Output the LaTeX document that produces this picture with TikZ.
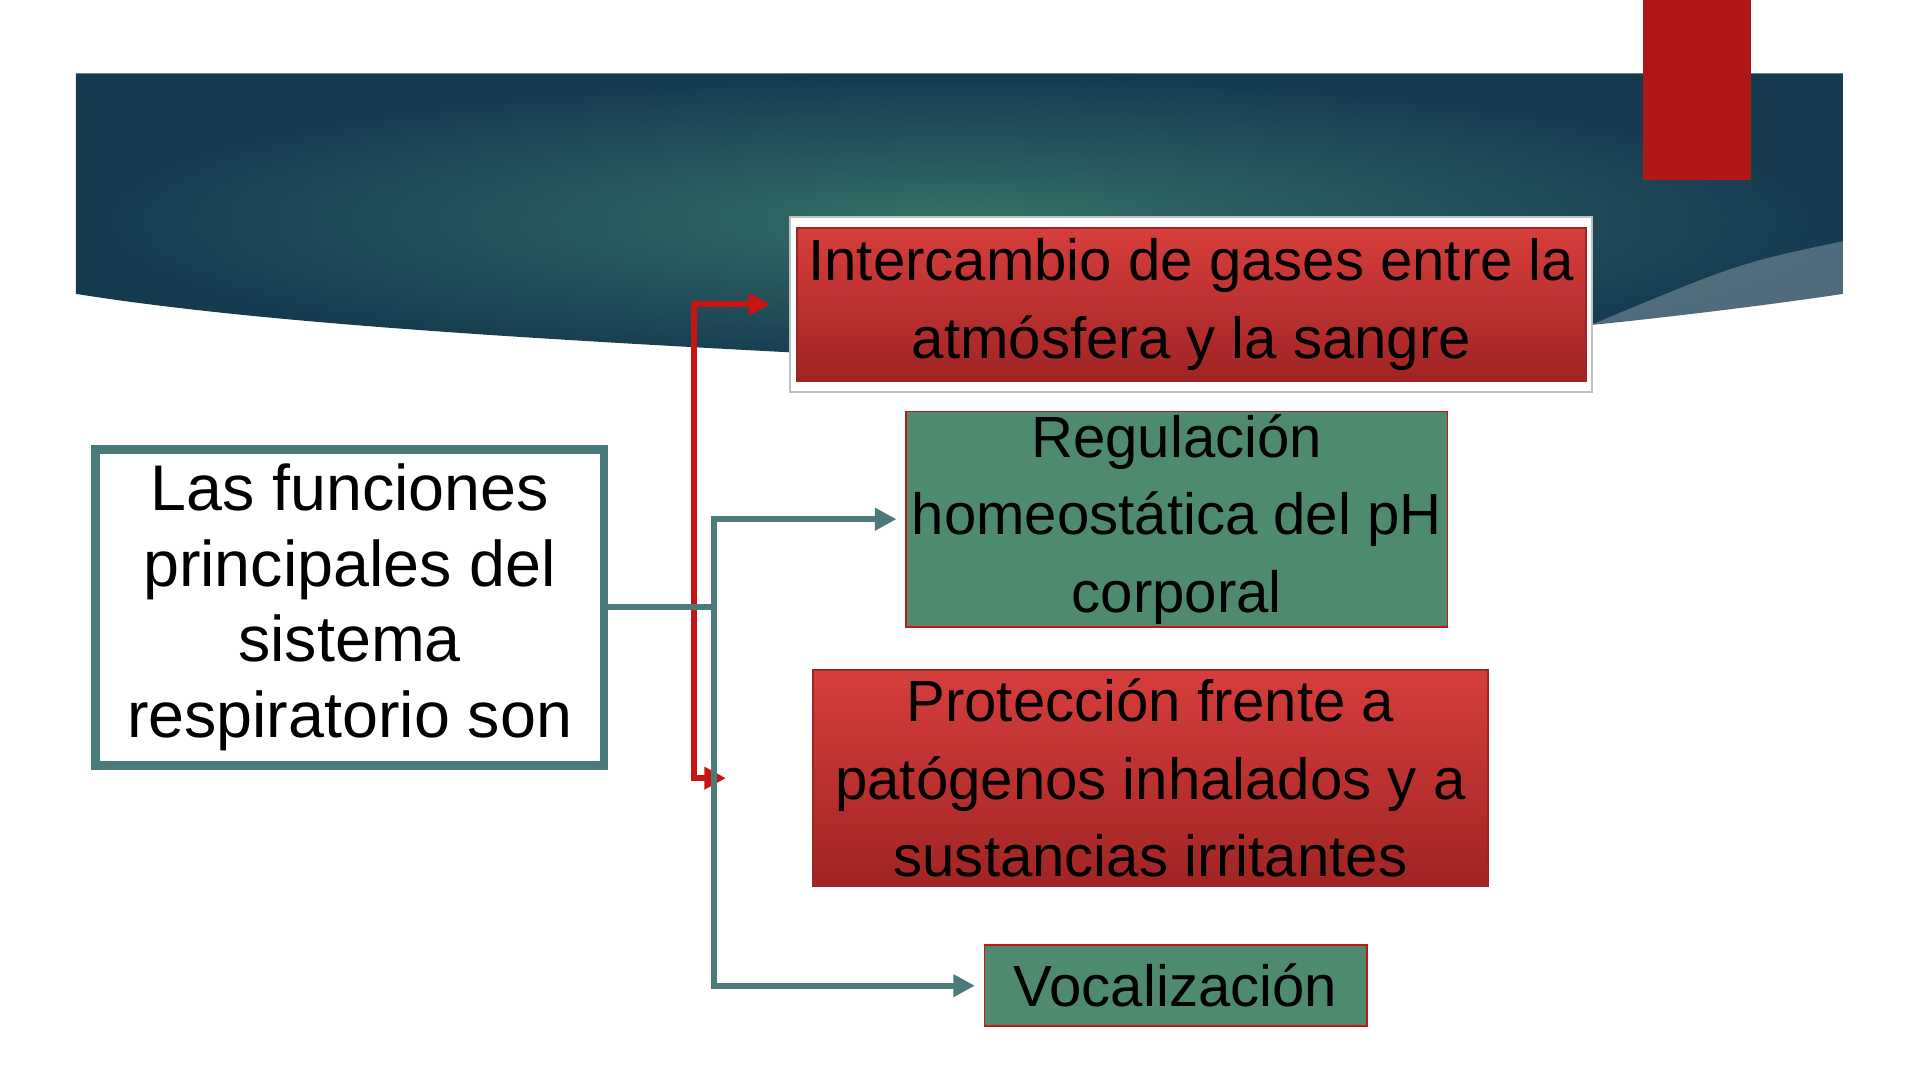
\documentclass[tikz,border=0pt]{standalone}
\usepackage{fontspec}
\setmainfont{Liberation Sans}
\usetikzlibrary{arrows.meta, positioning, calc, backgrounds}
\definecolor{BannerTeal}{RGB}{52, 112, 102}
\definecolor{BannerDark}{RGB}{22, 58, 80}
\definecolor{FuncRed}{RGB}{214, 62, 60}
\definecolor{FuncRedDark}{RGB}{160, 36, 36}
\definecolor{FuncGreen}{RGB}{78, 138, 110}
\definecolor{LinkTeal}{RGB}{74, 122, 122}
\definecolor{LinkRed}{RGB}{200, 20, 20}
\definecolor{TabRed}{RGB}{176, 24, 24}

\tikzset{
  redbox/.style={draw=FuncRedDark, top color=FuncRed, bottom color=FuncRedDark, minimum height=#1, inner sep=0pt, align=center, font=\fontsize{13.5}{18}\selectfont},
  greenbox/.style={draw=LinkRed, fill=FuncGreen, minimum height=#1, inner sep=0pt, align=center, font=\fontsize{13.5}{18}\selectfont},
  tealarrow/.style={draw=LinkTeal, line width=1.4pt, -{Triangle[length=5pt, width=5pt]}},
  redarrow/.style={draw=LinkRed, line width=1.4pt, -{Triangle[length=5pt, width=5pt]}}
}

\begin{document}
\begin{tikzpicture}[x=0.01cm, y=-0.01cm]
        \useasboundingbox (0,0) rectangle (1568,882);
        \fill[white] (0,0) rectangle (1568,882);

        % --- banner ---
        \shade[inner color=BannerTeal, outer color=BannerDark] (62,60) -- (1505,60) -- (1505,240)
            .. controls (1200,285) and (850,300) .. (650,288)
            .. controls (400,275) and (200,262) .. (62,240) -- cycle;
        \fill[white, opacity=0.25] (1300,265) .. controls (1400,255) .. (1505,240) -- (1505,197)
            .. controls (1420,215) .. (1300,265) -- cycle;
        \fill[TabRed] (1342,0) rectangle (1430,147);

        % --- nodes ---
        \node[draw=LinkTeal, line width=2pt, fill=white, minimum width=4.15cm, minimum height=2.56cm,
              align=center, font=\fontsize{15}{17.6}\selectfont] (main) at (285.5,496) {Las funciones\\principales del\\sistema\\respiratorio son};

        \draw[gray!50, fill=white] (645,177) rectangle (1300,320);
        \node[redbox=1.25cm, minimum width=6.44cm] (gases) at (973,248.5) {Intercambio de gases entre la\\atmósfera y la sangre};
        \node[greenbox=1.76cm, minimum width=4.42cm] (ph) at (961,424) {Regulación\\homeostática del pH\\corporal};
        \node[redbox=1.77cm, minimum width=5.51cm] (prot) at (939.5,635.5) {Protección frente a\\patógenos inhalados y a\\sustancias irritantes};
        \node[greenbox=0.66cm, minimum width=3.12cm] (voc) at (960,805) {Vocalización};

        % --- connectors ---
        \coordinate (tj) at (583,496);
        \coordinate (rj) at (567,496);
        \draw[redarrow] (rj) |- ([xshift=-6pt]gases.west);
        \draw[redarrow] (rj) |- ([xshift=-20pt]prot.west);
        \draw[LinkTeal, line width=1.4pt] (main.east) -- (tj);
        \draw[tealarrow] (tj) |- ([xshift=-2pt]ph.west);
        \draw[tealarrow] (tj) |- ([xshift=-2pt]voc.west);
\end{tikzpicture}
\end{document}
